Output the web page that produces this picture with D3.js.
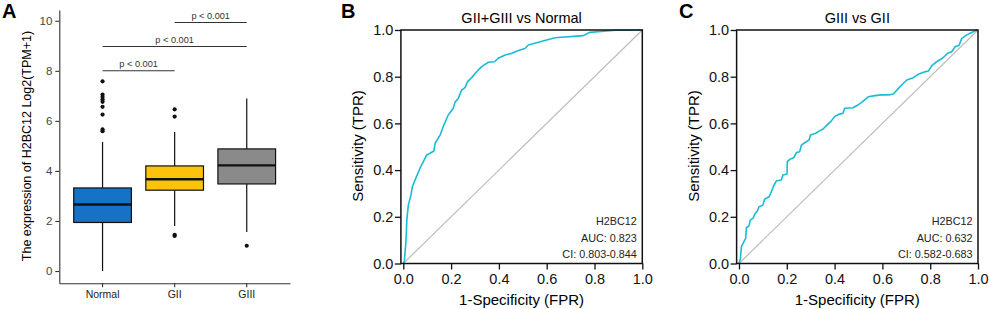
<!DOCTYPE html>
<html>
<head>
<meta charset="utf-8">
<script src="https://cdn.jsdelivr.net/npm/d3@7"></script>
<style>
  body { margin: 0; background: #fff; }
  svg { display: block; font-family: "Liberation Sans", Arial, Helvetica, sans-serif; }
</style>
</head>
<body>
<div id="chart"></div>
<script>
// ---- panel A: box plot data ----
const groups = ["Normal", "GII", "GIII"];
const boxColors = ["#1572c4", "#fdc20c", "#8a8a8a"];
const q1 = [1.94, 3.23, 3.48];
const medians = [2.66, 3.67, 4.22];
const q3 = [3.32, 4.2, 4.88];
const whiskerLow = [0, 1.8, 1.56];
const whiskerHigh = [5.16, 5.56, 6.89];
const outliers = [
  [7.58, 7.05, 6.95, 6.85, 6.76, 6.56, 6.25, 5.66, 5.59],
  [6.46, 6.17, 1.45, 1.4],
  [1.01]
];
const yTicksA = [0, 2, 4, 6, 8, 10];
const compFrom = ["Normal", "Normal", "GII"];
const compTo = ["GII", "GIII", "GIII"];
const compLevel = [8.0, 8.97, 9.93];
const compLabel = ["p < 0.001", "p < 0.001", "p < 0.001"];

// ---- panels B and C: ROC curves ----
const rocB_fpr = [0, 0.004, 0.011, 0.015, 0.021, 0.032, 0.038, 0.049, 0.07, 0.098, 0.112, 0.128, 0.133, 0.154, 0.167, 0.174, 0.188, 0.209, 0.216, 0.23, 0.244, 0.258, 0.269, 0.286, 0.307, 0.328, 0.356, 0.381, 0.397, 0.426, 0.454, 0.488, 0.509, 0.523, 0.6, 0.635, 0.753, 0.781, 0.886, 1];
const rocB_tpr = [0, 0.005, 0.093, 0.19, 0.25, 0.293, 0.329, 0.357, 0.408, 0.465, 0.472, 0.482, 0.515, 0.55, 0.586, 0.603, 0.636, 0.665, 0.69, 0.707, 0.743, 0.753, 0.779, 0.796, 0.821, 0.843, 0.862, 0.864, 0.879, 0.893, 0.9, 0.914, 0.921, 0.936, 0.957, 0.967, 0.976, 0.99, 0.999, 1];

const rocC_fpr = [0, 0.006, 0.01, 0.017, 0.028, 0.031, 0.042, 0.047, 0.059, 0.066, 0.075, 0.084, 0.1, 0.107, 0.126, 0.135, 0.145, 0.156, 0.177, 0.184, 0.201, 0.202, 0.215, 0.229, 0.24, 0.254, 0.261, 0.272, 0.282, 0.293, 0.299, 0.321, 0.335, 0.352, 0.372, 0.386, 0.4, 0.418, 0.435, 0.442, 0.477, 0.498, 0.513, 0.541, 0.569, 0.597, 0.625, 0.646, 0.667, 0.688, 0.702, 0.729, 0.75, 0.778, 0.792, 0.809, 0.827, 0.851, 0.873, 0.89, 0.904, 0.921, 0.932, 0.953, 0.967, 0.987, 1];
const rocC_tpr = [0, 0.022, 0.072, 0.086, 0.108, 0.153, 0.161, 0.186, 0.194, 0.212, 0.222, 0.243, 0.25, 0.275, 0.286, 0.307, 0.333, 0.353, 0.358, 0.379, 0.383, 0.436, 0.448, 0.453, 0.475, 0.479, 0.507, 0.515, 0.522, 0.529, 0.55, 0.558, 0.567, 0.576, 0.597, 0.61, 0.629, 0.639, 0.643, 0.665, 0.667, 0.679, 0.69, 0.714, 0.719, 0.722, 0.722, 0.726, 0.75, 0.772, 0.786, 0.796, 0.81, 0.821, 0.824, 0.85, 0.864, 0.879, 0.9, 0.907, 0.928, 0.935, 0.964, 0.979, 0.986, 0.996, 1];

const rocTicks = [0, 0.2, 0.4, 0.6, 0.8, 1.0];
const rocTitles = ["GII+GIII vs Normal", "GIII vs GII"];
const rocNotes = [
  ["H2BC12", "AUC: 0.823", "CI: 0.803-0.844"],
  ["H2BC12", "AUC: 0.632", "CI: 0.582-0.683"]
];

const svg = d3.select("#chart").append("svg")
  .attr("width", 989)
  .attr("height", 309);

// panel letters
svg.selectAll("text.letter")
  .data([["A", 2], ["B", 341], ["C", 679]])
  .join("text")
  .attr("class", "letter")
  .attr("x", d => d[1])
  .attr("y", 18)
  .attr("font-size", "20px")
  .attr("font-weight", "bold")
  .text(d => d[0]);

// ================= Panel A =================
const xA = d3.scaleBand()
  .domain(groups)
  .range([59.3, 290])
  .paddingInner(0)
  .paddingOuter(0.1);
const yA = d3.scaleLinear()
  .domain([-0.49, 10.43])
  .range([283.3, 10]);

const gA = svg.append("g");

gA.append("g")
  .attr("transform", "translate(59.3,0)")
  .call(d3.axisLeft(yA).tickValues(yTicksA).tickSize(4).tickSizeOuter(0).tickPadding(3))
  .call(g => g.selectAll("path,line").attr("stroke", "#333").attr("stroke-width", 1.1))
  .call(g => g.selectAll("text").attr("font-size", "11.5px").attr("fill", "#444"));

gA.append("g")
  .attr("transform", "translate(0,283.3)")
  .call(d3.axisBottom(xA).tickSize(4).tickSizeOuter(0).tickPadding(3.5))
  .call(g => g.selectAll("path,line").attr("stroke", "#333").attr("stroke-width", 1.1))
  .call(g => g.selectAll("text").attr("font-size", "10.5px").attr("fill", "#222"));

gA.append("text")
  .attr("transform", "rotate(-90)")
  .attr("x", -146)
  .attr("y", 31)
  .attr("text-anchor", "middle")
  .attr("font-size", "12.5px")
  .text("The expression of H2BC12 Log2(TPM+1)");

const boxData = groups.map((g, i) => ({
  g, i, q1: q1[i], med: medians[i], q3: q3[i],
  lo: whiskerLow[i], hi: whiskerHigh[i], out: outliers[i], color: boxColors[i]
}));
const cx = d => xA(d.g) + xA.bandwidth() / 2;
const boxW = xA.bandwidth() * 0.8;

// whiskers
gA.selectAll("line.whisk-lo")
  .data(boxData)
  .join("line")
  .attr("x1", cx).attr("x2", cx)
  .attr("y1", d => yA(d.lo)).attr("y2", d => yA(d.q1))
  .attr("stroke", "#111").attr("stroke-width", 1.2);
gA.selectAll("line.whisk-hi")
  .data(boxData)
  .join("line")
  .attr("x1", cx).attr("x2", cx)
  .attr("y1", d => yA(d.hi)).attr("y2", d => yA(d.q3))
  .attr("stroke", "#111").attr("stroke-width", 1.2);

// boxes
gA.selectAll("rect.box")
  .data(boxData)
  .join("rect")
  .attr("x", d => cx(d) - boxW / 2)
  .attr("width", boxW)
  .attr("y", d => yA(d.q3))
  .attr("height", d => yA(d.q1) - yA(d.q3))
  .attr("fill", d => d.color)
  .attr("stroke", "#111")
  .attr("stroke-width", 1.2);

// medians
gA.selectAll("line.med")
  .data(boxData)
  .join("line")
  .attr("x1", d => cx(d) - boxW / 2).attr("x2", d => cx(d) + boxW / 2)
  .attr("y1", d => yA(d.med)).attr("y2", d => yA(d.med))
  .attr("stroke", "#111").attr("stroke-width", 2.4);

// outliers
gA.selectAll("circle.out")
  .data(boxData.flatMap(d => d.out.map(v => ({ g: d.g, v }))))
  .join("circle")
  .attr("cx", cx)
  .attr("cy", d => yA(d.v))
  .attr("r", 2.1)
  .attr("fill", "#111");

// comparison brackets
const comps = compFrom.map((f, i) => ({ f, t: compTo[i], lvl: compLevel[i], label: compLabel[i] }));
gA.selectAll("line.comp")
  .data(comps)
  .join("line")
  .attr("x1", d => xA(d.f) + xA.bandwidth() / 2)
  .attr("x2", d => xA(d.t) + xA.bandwidth() / 2)
  .attr("y1", d => yA(d.lvl)).attr("y2", d => yA(d.lvl))
  .attr("stroke", "#333").attr("stroke-width", 1.1);
gA.selectAll("text.comp")
  .data(comps)
  .join("text")
  .attr("x", d => (xA(d.f) + xA(d.t)) / 2 + xA.bandwidth() / 2)
  .attr("y", d => yA(d.lvl) - 3.5)
  .attr("text-anchor", "middle")
  .attr("font-size", "9.2px")
  .attr("fill", "#333")
  .text(d => d.label);

// ================= Panels B & C =================
function rocPanel(left, right, fpr, tpr, title, notes) {
  const x = d3.scaleLinear().domain([0, 1]).range([left, right]);
  const y = d3.scaleLinear().domain([0, 1]).range([263.5, 30]);
  const g = svg.append("g");

  // diagonal reference
  g.append("line")
    .attr("x1", x(0)).attr("y1", y(0))
    .attr("x2", x(1)).attr("y2", y(1))
    .attr("stroke", "#bdbdbd").attr("stroke-width", 1.2);

  const pts = fpr.map((v, i) => [v, tpr[i]]);
  g.append("path")
    .datum(pts)
    .attr("fill", "none")
    .attr("stroke", "#19bcd6")
    .attr("stroke-width", 1.6)
    .attr("stroke-linejoin", "round")
    .attr("d", d3.line().x(d => x(d[0])).y(d => y(d[1])));

  // frame
  g.append("rect")
    .attr("x", x(-0.01)).attr("y", y(1))
    .attr("width", x(1) - x(-0.01))
    .attr("height", y(0) - y(1))
    .attr("fill", "none")
    .attr("stroke", "#111")
    .attr("stroke-width", 1.5);

  g.append("g")
    .attr("transform", `translate(0,${y(0)})`)
    .call(d3.axisBottom(x).tickValues(rocTicks).tickFormat(d3.format(".1f")).tickSize(6).tickSizeOuter(0).tickPadding(4.5))
    .call(a => a.select(".domain").remove())
    .call(a => a.selectAll("line").attr("stroke", "#111").attr("stroke-width", 1.3))
    .call(a => a.selectAll("text").attr("font-size", "14.5px").attr("fill", "#111"));

  g.append("g")
    .attr("transform", `translate(${x(-0.01)},0)`)
    .call(d3.axisLeft(y).tickValues(rocTicks).tickFormat(d3.format(".1f")).tickSize(6).tickSizeOuter(0).tickPadding(1.5))
    .call(a => a.select(".domain").remove())
    .call(a => a.selectAll("line").attr("stroke", "#111").attr("stroke-width", 1.3))
    .call(a => a.selectAll("text").attr("font-size", "14.5px").attr("fill", "#111"));

  const mid = (x(-0.01) + x(1)) / 2;
  g.append("text")
    .attr("x", mid).attr("y", 22.7)
    .attr("text-anchor", "middle")
    .attr("font-size", "14.5px")
    .text(title);

  g.append("text")
    .attr("x", mid).attr("y", 305)
    .attr("text-anchor", "middle")
    .attr("font-size", "15px")
    .text("1-Specificity (FPR)");

  g.append("text")
    .attr("transform", "rotate(-90)")
    .attr("x", -146)
    .attr("y", x(-0.01) - 38)
    .attr("text-anchor", "middle")
    .attr("font-size", "15px")
    .text("Sensitivity (TPR)");

  g.selectAll("text.note")
    .data(notes)
    .join("text")
    .attr("x", x(1) - 5.5)
    .attr("y", (d, i) => 225 + i * 16.7)
    .attr("text-anchor", "end")
    .attr("font-size", "10.8px")
    .attr("fill", "#222")
    .text(d => d);
}

rocPanel(403.3, 642.3, rocB_fpr, rocB_tpr, rocTitles[0], rocNotes[0]);
rocPanel(739, 978, rocC_fpr, rocC_tpr, rocTitles[1], rocNotes[1]);
</script>
</body>
</html>
